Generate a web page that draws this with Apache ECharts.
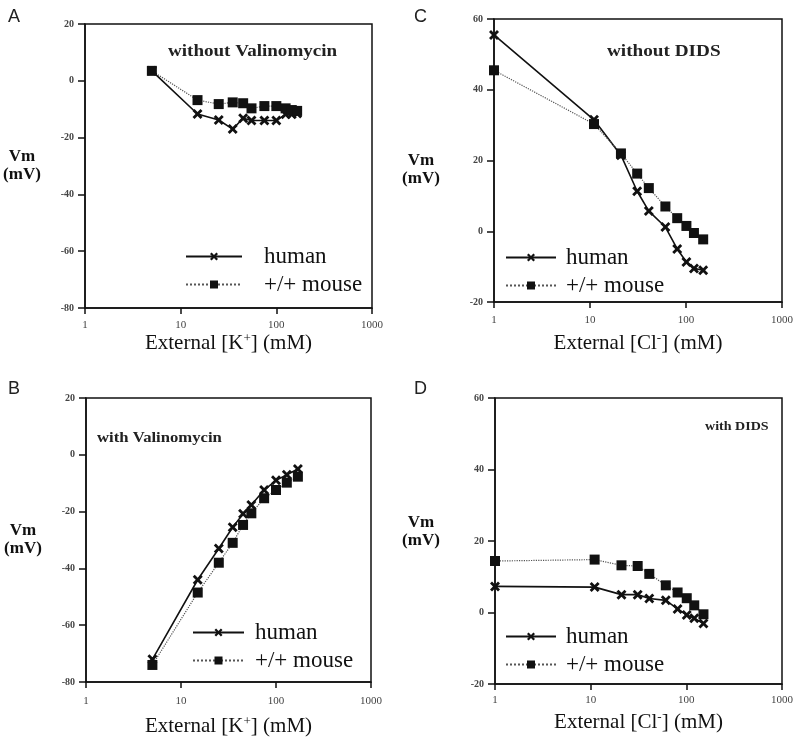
<!DOCTYPE html>
<html><head><meta charset="utf-8">
<script src="https://cdn.jsdelivr.net/npm/echarts@6/dist/echarts.min.js"></script>
<style>html,body{margin:0;padding:0;background:#fff}#c{width:800px;height:738px}</style>
</head><body><div id="c"></div>
<script>
// ---- data ----
const kA = [5, 15, 25, 35, 45, 55, 75, 100, 125, 145, 165];
const humanA = [3.5, -11.7, -13.8, -17, -13.2, -14, -14, -14, -11.8, -11.8, -11.5];
const mouseA = [3.5, -6.8, -8.2, -7.6, -7.9, -9.7, -8.9, -8.9, -9.7, -10.3, -10.6];

const kB = [5, 15, 25, 35, 45, 55, 75, 100, 130, 170];
const humanB = [-72, -44, -33, -25.5, -20.8, -17.7, -12.4, -9, -7, -5];
const mouseB = [-74, -48.5, -38, -31, -24.7, -20.6, -15.3, -12.4, -9.8, -7.7];

const clC = [1, 11, 21, 31, 41, 61, 81, 101, 121, 151];
const humanC = [55.5, 31.5, 21.5, 11.3, 5.7, 1.2, -5, -8.7, -10.5, -11];
const mouseC = [45.5, 30.3, 22, 16.3, 12.2, 7, 3.7, 1.5, -0.5, -2.3];

const clD = [1, 11, 21, 31, 41, 61, 81, 101, 121, 151];
const humanD = [7.3, 7.1, 5, 5, 3.9, 3.4, 1, -0.7, -1.6, -3.1];
const mouseD = [14.4, 14.8, 13.2, 13, 10.8, 7.6, 5.6, 4, 2, -0.5];

const xTicks = [1, 10, 100, 1000];

const seriesNames = ['human', '+/+ mouse'];
const panelTitles = ['without Valinomycin', 'with Valinomycin', 'without DIDS', 'with DIDS'];
const panelLetters = ['A', 'B', 'C', 'D'];

// ---- layout ----
const grids = [
  {left: 85, top: 24, width: 287, height: 284},
  {left: 86, top: 398, width: 285, height: 284},
  {left: 494, top: 19, width: 288, height: 283},
  {left: 495, top: 398, width: 287, height: 286}
];
const panels = [
  {x: kA, h: humanA, m: mouseA, ymin: -80, ymax: 20, ion: 'K', sup: '+'},
  {x: kB, h: humanB, m: mouseB, ymin: -80, ymax: 20, ion: 'K', sup: '+'},
  {x: clC, h: humanC, m: mouseC, ymin: -20, ymax: 60, ion: 'Cl', sup: '-'},
  {x: clD, h: humanD, m: mouseD, ymin: -20, ymax: 60, ion: 'Cl', sup: '-'}
];
const xNameGap = [24, 33, 30, 27];
const xLabelMargin = [12, 14, 13, 11];
const yNameGap = [63, 63, 73, 74];
const yNames = ['Vm\n(mV)', 'Vm\n(mV)', '\nVm\n(mV)', 'Vm\n(mV)\n'];
const serif = '"Liberation Serif", "Times New Roman", serif';
const xSym = 'path://M0,2L2,0L5,3L8,0L10,2L7,5L10,8L8,10L5,7L2,10L0,8L3,5Z';

const option = {
  backgroundColor: '#fff',
  animation: false,
  grid: grids.map(g => Object.assign({show: true, borderColor: '#111', borderWidth: 1.5, backgroundColor: 'transparent'}, g)),
  xAxis: panels.map((p, i) => ({
    type: 'log', logBase: 10, min: 1, max: 1000, gridIndex: i,
    axisLine: {show: true, onZero: false, lineStyle: {color: '#111', width: 1.5}},
    axisTick: {show: true, length: 6, lineStyle: {color: '#111', width: 1.5}},
    minorTick: {show: false},
    splitLine: {show: false},
    axisLabel: {color: '#444', fontFamily: serif, fontSize: 11, margin: xLabelMargin[i],
      formatter: v => (xTicks.indexOf(Math.round(v)) >= 0 ? String(Math.round(v)) : '')},
    name: 'External [' + p.ion + '{s|' + p.sup + '}] (mM)',
    nameLocation: 'middle', nameGap: xNameGap[i],
    nameTextStyle: {color: '#111', fontFamily: serif, fontSize: 21,
      rich: {s: {fontSize: 13, verticalAlign: 'top', padding: [0, 0, 9, 0], fontFamily: serif, color: '#111'}}}
  })),
  yAxis: panels.map((p, i) => ({
    type: 'value', min: p.ymin, max: p.ymax, interval: 20, gridIndex: i,
    axisLine: {show: true, lineStyle: {color: '#111', width: 1.5}},
    axisTick: {show: true, length: 7, lineStyle: {color: '#111', width: 1.5}},
    splitLine: {show: false},
    axisLabel: {color: '#444', fontFamily: serif, fontSize: 10, fontWeight: 'bold', margin: 11},
    name: yNames[i], nameLocation: 'middle', nameRotate: 0, nameGap: yNameGap[i],
    nameTextStyle: {color: '#111', fontFamily: serif, fontSize: 17, fontWeight: 'bold', lineHeight: 18, align: 'center'}
  })),
  legend: [
    {left: 185, top: 245, itemWidth: 56, pad: 17},
    {left: 192, top: 621, itemWidth: 51, pad: 6},
    {left: 505, top: 246, itemWidth: 50, pad: 5},
    {left: 505, top: 625, itemWidth: 50, pad: 5}
  ].map(o => ({
    data: seriesNames, orient: 'vertical', left: o.left, top: o.top,
    itemWidth: o.itemWidth, itemHeight: 10, itemGap: 5, padding: 0,
    selectedMode: false,
    textStyle: {fontFamily: serif, fontSize: 23, color: '#111', lineHeight: 23, padding: [0, 0, 0, o.pad]}
  })),
  series: [],
  graphic: []
};

panels.forEach((p, i) => {
  option.series.push({
    name: seriesNames[0], type: 'line', xAxisIndex: i, yAxisIndex: i,
    data: p.x.map((x, j) => [x, p.h[j]]),
    symbol: xSym, symbolSize: 10,
    lineStyle: {color: '#111', width: 1.6, type: 'solid'},
    itemStyle: {color: '#111'}
  });
  option.series.push({
    name: seriesNames[1], type: 'line', xAxisIndex: i, yAxisIndex: i,
    data: p.x.map((x, j) => [x, p.m[j]]),
    symbol: 'rect', symbolSize: 10,
    lineStyle: {color: '#555', width: 1.2, type: 'dotted'},
    itemStyle: {color: '#111'}
  });
});

// panel letters and inside titles
const letterPos = [[8, 8], [8, 380], [414, 8], [414, 380]];
const titlePos = [[168, 52], [97, 438], [607, 52], [705, 427]];
const titleFont = [16, 14, 16, 13];
const titleScale = [1.19, 1.19, 1.2, 1.08];
panelLetters.forEach((L, i) => {
  option.graphic.push({type: 'text', left: letterPos[i][0], top: letterPos[i][1],
    style: {text: L, font: '18px "Liberation Sans", Arial, sans-serif', fill: '#222'}});
  option.graphic.push({type: 'text', x: titlePos[i][0], y: titlePos[i][1], scaleX: titleScale[i],
    style: {text: panelTitles[i], font: 'bold ' + titleFont[i] + 'px ' + serif, fill: '#222', verticalAlign: 'middle', align: 'left'}});
});

const chart = echarts.init(document.getElementById('c'), null, {renderer: 'canvas'});
chart.setOption(option);
</script></body></html>
